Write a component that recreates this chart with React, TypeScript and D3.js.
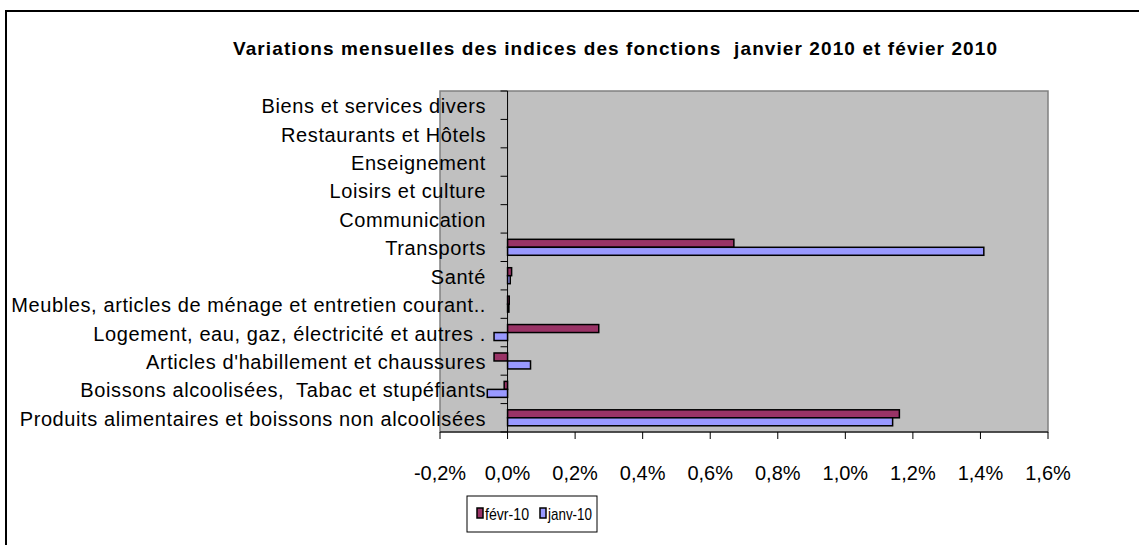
import * as d3 from 'd3'

const categories = [
    'Biens et services divers',
    'Restaurants et Hôtels',
    'Enseignement',
    'Loisirs et culture',
    'Communication',
    'Transports',
    'Santé',
    'Meubles, articles de ménage et entretien courant..',
    'Logement, eau, gaz, électricité et autres .',
    "Articles d'habillement et chaussures",
    'Boissons alcoolisées,\u00a0 Tabac et stupéfiants',
    'Produits alimentaires et boissons non alcoolisées',
]

const series = ['févr-10', 'janv-10']
const fevr = [0, 0, 0, 0, 0, 0.67, 0.012, 0.005, 0.27, -0.04, -0.01, 1.16]
const janv = [0, 0, 0, 0, 0, 1.41, 0.008, 0.004, -0.04, 0.068, -0.06, 1.14]
const xTicks = [-0.2, 0, 0.2, 0.4, 0.6, 0.8, 1.0, 1.2, 1.4, 1.6]

const colors = ['#993366', '#9999FF']
const font = 'Arial, "Liberation Sans", sans-serif'

export default function App() {
    const W = 1139
    const H = 545
    const x = d3.scaleLinear().domain([-0.2, 1.6]).range([440, 1048])
    const y = d3.scaleBand().domain(categories).range([91, 432])
    const ys = d3
        .scaleBand()
        .domain(series)
        .range([0, y.bandwidth()])
        .paddingOuter(0.78)
    const values = [fevr, janv]
    const fmt = (v: number) => v.toFixed(1).replace('.', ',') + '%'

    return (
        <svg
            width={W}
            height={H}
            style={{ position: 'absolute', left: 0, top: 0, background: '#fff' }}
            fontFamily={font}
        >
            <rect x={6} y={11} width={W + 10} height={H} fill="#fff" stroke="#000" strokeWidth={2} />

            <text
                x={233}
                y={55}
                fontSize={19}
                fontWeight="bold"
                fill="#000"
                textLength={764}
                lengthAdjust="spacing"
            >
                Variations mensuelles des indices des fonctions{'\u00a0 '}janvier 2010 et févier 2010
            </text>

            {/* plot area */}
            <rect x={440} y={91} width={608} height={341} fill="#C0C0C0" stroke="#808080" strokeWidth={1.5} />

            {/* bars */}
            {series.map((s, si) =>
                categories.map((c, i) => {
                    const v = values[si][i]
                    if (v === 0) return null
                    const x0 = x(Math.min(0, v))
                    const w = Math.abs(x(v) - x(0))
                    return (
                        <rect
                            key={s + c}
                            x={x0}
                            y={(y(c) ?? 0) + (ys(s) ?? 0)}
                            width={w}
                            height={ys.bandwidth()}
                            fill={colors[si]}
                            stroke="#000"
                            strokeWidth={1.5}
                        />
                    )
                })
            )}

            {/* y axis */}
            <line x1={x(0)} x2={x(0)} y1={91} y2={432} stroke="#000" strokeWidth={1} />
            {categories.concat(['']).map((c, i) => {
                const yy = 91 + i * y.step()
                return <line key={'yt' + i} x1={x(0) - 7} x2={x(0)} y1={yy} y2={yy} stroke="#000" />
            })}

            {/* x axis */}
            <line x1={440} x2={1048} y1={432} y2={432} stroke="#000" />
            {xTicks.map((t) => (
                <g key={'xt' + t}>
                    <line x1={x(t)} x2={x(t)} y1={432} y2={439} stroke="#000" />
                    <text x={x(t)} y={480} textAnchor="middle" fontSize={20} fill="#000">
                        {fmt(t)}
                    </text>
                </g>
            ))}

            {/* category labels */}
            {categories.map((c) => (
                <text
                    key={'lab' + c}
                    x={486}
                    y={(y(c) ?? 0) + y.bandwidth() / 2 + 8}
                    textAnchor="end"
                    fontSize={20}
                    letterSpacing={0.6}
                    fill="#000"
                >
                    {c}
                </text>
            ))}

            {/* legend */}
            <rect x={467} y={496} width={130} height={36} fill="#fff" stroke="#000" strokeWidth={1} />
            {series.map((s, si) => (
                <g key={'lg' + s} transform={`translate(${[477, 540][si]},508)`}>
                    <rect x={0} y={0} width={6} height={10} fill={colors[si]} stroke="#000" strokeWidth={1.5} />
                    <text
                        x={8}
                        y={12}
                        fontSize={17}
                        fill="#000"
                        textLength={44}
                        lengthAdjust="spacingAndGlyphs"
                    >
                        {s}
                    </text>
                </g>
            ))}
        </svg>
    )
}
